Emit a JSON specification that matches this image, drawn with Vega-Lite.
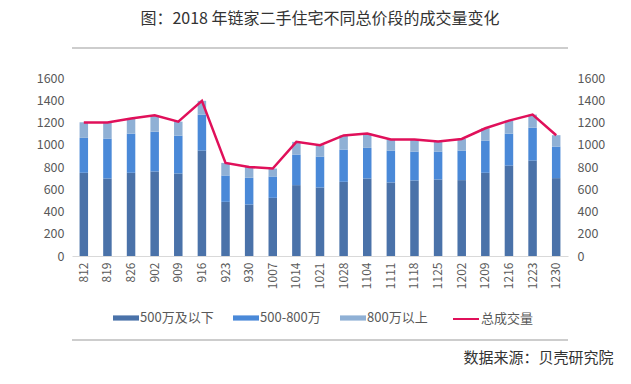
{
  "$schema": "https://vega.github.io/schema/vega-lite/v6.json",
  "width": 496,
  "height": 178,
  "autosize": {"type": "none"},
  "padding": {"left": 72, "top": 78, "right": 63, "bottom": 128},
  "background": "white",
  "config": {
    "view": {"stroke": null},
    "font": "Noto Sans CJK SC",
    "axis": {"labelFont": "Noto Sans CJK SC", "labelFontSize": 12, "labelColor": "#595959", "grid": false}
  },
  "title": {
    "text": "图：2018 年链家二手住宅不同总价段的成交量变化",
    "fontSize": 16,
    "fontWeight": "normal",
    "font": "Noto Sans CJK SC",
    "color": "#333333",
    "anchor": "middle",
    "offset": 20
  },
  "data": {
    "values": [
      {"d": "812", "a": 748, "b": 314, "c": 140, "total": 1200},
      {"d": "819", "a": 697, "b": 359, "c": 146, "total": 1200},
      {"d": "826", "a": 748, "b": 352, "c": 135, "total": 1235},
      {"d": "902", "a": 760, "b": 358, "c": 146, "total": 1264},
      {"d": "909", "a": 742, "b": 340, "c": 126, "total": 1208},
      {"d": "916", "a": 948, "b": 323, "c": 124, "total": 1395},
      {"d": "923", "a": 487, "b": 237, "c": 113, "total": 837},
      {"d": "930", "a": 463, "b": 240, "c": 98, "total": 801},
      {"d": "1007", "a": 523, "b": 192, "c": 71, "total": 786},
      {"d": "1014", "a": 637, "b": 275, "c": 114, "total": 1026},
      {"d": "1021", "a": 616, "b": 278, "c": 102, "total": 996},
      {"d": "1028", "a": 667, "b": 290, "c": 127, "total": 1084},
      {"d": "1104", "a": 697, "b": 275, "c": 128, "total": 1100},
      {"d": "1111", "a": 661, "b": 287, "c": 99, "total": 1047},
      {"d": "1118", "a": 679, "b": 260, "c": 108, "total": 1047},
      {"d": "1125", "a": 688, "b": 251, "c": 90, "total": 1029},
      {"d": "1202", "a": 682, "b": 266, "c": 104, "total": 1052},
      {"d": "1209", "a": 748, "b": 290, "c": 110, "total": 1148},
      {"d": "1216", "a": 813, "b": 287, "c": 117, "total": 1217},
      {"d": "1223", "a": 858, "b": 296, "c": 117, "total": 1271},
      {"d": "1230", "a": 700, "b": 284, "c": 102, "total": 1086}
    ]
  },
  "resolve": {"axis": {"x": "independent", "y": "independent"}},
  "layer": [
    {
      "transform": [{"fold": ["a", "b", "c"], "as": ["seg", "v"]}],
      "mark": {"type": "bar"},
      "encoding": {
        "x": {
          "field": "d", "type": "ordinal", "sort": null,
          "scale": {"paddingInner": 0.64, "paddingOuter": 0.32},
          "axis": {"orient": "bottom", "title": null, "labelAngle": -90, "labelAlign": "right", "labelBaseline": "middle", "labelPadding": 6, "ticks": false, "domain": true, "domainColor": "#d9d9d9", "domainWidth": 1}
        },
        "y": {
          "field": "v", "type": "quantitative", "stack": "zero",
          "scale": {"domain": [0, 1600], "nice": false},
          "axis": {"orient": "left", "title": null, "format": "d", "ticks": false, "domain": false, "values": [0, 200, 400, 600, 800, 1000, 1200, 1400, 1600], "labelPadding": 8, "labelFontSize": 12.5}
        },
        "color": {
          "field": "seg", "type": "nominal",
          "scale": {"domain": ["a", "b", "c"], "range": ["#4a72a9", "#4a89d8", "#8fb0d5"]},
          "legend": {
            "orient": "none", "direction": "horizontal", "legendX": 41, "legendY": 227,
            "title": null,
            "labelExpr": "datum.value == 'a' ? '500万及以下' : datum.value == 'b' ? '500-800万' : '800万以上'",
            "symbolType": "M-1,-0.2H1V0.2H-1Z", "symbolSize": 676, "symbolStrokeWidth": 0,
            "labelFontSize": 13, "labelColor": "#595959", "labelFont": "Noto Sans CJK SC", "labelOffset": 1,
            "columnPadding": 19
          }
        },
        "order": {"field": "seg", "sort": "ascending"}
      }
    },
    {
      "mark": {"type": "line", "strokeWidth": 2.5},
      "encoding": {
        "x": {"field": "d", "type": "ordinal", "sort": null, "axis": null},
        "y": {
          "field": "total", "type": "quantitative",
          "axis": {"orient": "right", "title": null, "format": "d", "ticks": false, "domain": false, "values": [0, 200, 400, 600, 800, 1000, 1200, 1400, 1600], "labelPadding": 9, "labelFontSize": 12.5}
        },
        "stroke": {
          "datum": "总成交量",
          "scale": {"range": ["#e0105a"]},
          "legend": {
            "orient": "none", "legendX": 380, "legendY": 227, "title": null,
            "symbolType": "M-1,0H1", "symbolSize": 676, "symbolStrokeWidth": 2,
            "labelFontSize": 13, "labelColor": "#595959", "labelFont": "Noto Sans CJK SC", "labelOffset": 1
          }
        }
      }
    },
    {
      "mark": {"type": "rule", "color": "#cccccc", "strokeWidth": 1.5, "clip": false},
      "encoding": {
        "y": {"datum": 1870, "type": "quantitative", "axis": null}
      }
    },
    {
      "mark": {"type": "rule", "color": "#cccccc", "strokeWidth": 1.5, "clip": false, "yOffset": 84},
      "encoding": {
        "y": {"datum": 0, "type": "quantitative", "axis": null}
      }
    },
    {
      "mark": {"type": "point", "opacity": 0},
      "encoding": {
        "x": {
          "field": "d", "type": "ordinal", "sort": null,
          "axis": {"orient": "bottom", "labels": false, "ticks": false, "domain": false, "offset": 84,
            "title": "数据来源：贝壳研究院", "titleFont": "Noto Sans CJK SC", "titleFontSize": 15, "titleFontWeight": "normal", "titleColor": "#333333",
            "titleAnchor": "end", "titleAlign": "right", "titleX": 541, "titlePadding": 10}
        },
        "y": {"field": "total", "type": "quantitative", "axis": null}
      }
    }
  ]
}
